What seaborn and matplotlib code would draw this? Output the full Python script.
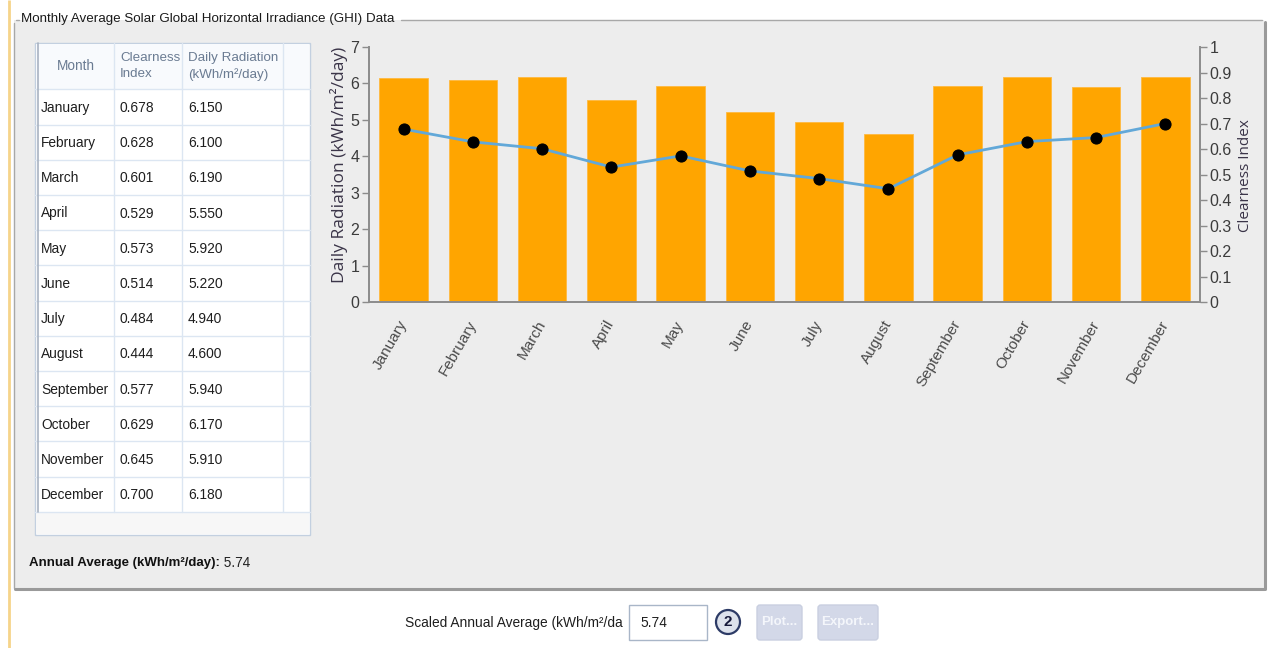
import numpy as np
import pandas as pd
import matplotlib
matplotlib.use("Agg")
import matplotlib.pyplot as plt
from matplotlib import font_manager
from matplotlib.patches import Rectangle, FancyBboxPatch, Circle
from matplotlib.ticker import FuncFormatter
import seaborn as sns

# ---- data ---------------------------------------------------------------
months = ["January", "February", "March", "April", "May", "June", "July",
          "August", "September", "October", "November", "December"]
clearness_index = [0.678, 0.628, 0.601, 0.529, 0.573, 0.514, 0.484,
                   0.444, 0.577, 0.629, 0.645, 0.700]
daily_radiation = [6.150, 6.100, 6.190, 5.550, 5.920, 5.220, 4.940,
                   4.600, 5.940, 6.170, 5.910, 6.180]
annual_average = 5.74
scaled_annual_average = 5.74
radiation_ticks = [0, 1, 2, 3, 4, 5, 6, 7]
clearness_ticks = [0, 0.1, 0.2, 0.3, 0.4, 0.5, 0.6, 0.7, 0.8, 0.9, 1.0]
table_headers = ["Month", "Clearness\nIndex", "Daily Radiation\n(kWh/m²/day)"]
panel_title = "Monthly Average Solar Global Horizontal Irradiance (GHI) Data"

# ---- style --------------------------------------------------------------
sns.set_theme(style="white")
installed = {f.name for f in font_manager.fontManager.ttflist}
narrow = "Liberation Sans Narrow" if "Liberation Sans Narrow" in installed else "Liberation Sans"
plt.rcParams["font.family"] = [narrow, "DejaVu Sans"]
plt.rcParams["axes.unicode_minus"] = False

W, H = 1269, 648
fig = plt.figure(figsize=(W / 100, H / 100), dpi=100, facecolor="white")

# full-figure canvas in pixel coordinates for the window chrome
bg = fig.add_axes([0, 0, 1, 1], zorder=0)
bg.set_xlim(0, W)
bg.set_ylim(H, 0)
bg.axis("off")

PANEL = "#EDEDED"
TXT = "#1E1E1E"
# accent strip on the left edge
bg.plot([9, 9], [0, H], color="#F6D48A", lw=2, solid_capstyle="butt")

# group box
gx0, gy0, gx1, gy1 = 14, 20, 1264, 588
bg.add_patch(Rectangle((gx0, gy0), gx1 - gx0, gy1 - gy0, facecolor=PANEL, edgecolor="none"))
edge = "#A8A8A8"
bg.plot([gx0, gx0], [gy0 + 3, gy1], color=edge, lw=1)
bg.plot([gx0 + 1, gx1], [gy1 + 1, gy1 + 1], color="#9A9A9A", lw=2.2)
bg.plot([gx1 + 1, gx1 + 1], [gy0 + 2, gy1 + 1], color="#9A9A9A", lw=2.2)
bg.plot([gx0 + 2, 19], [gy0, gy0], color=edge, lw=1)
bg.plot([401, gx1 - 2], [gy0, gy0], color=edge, lw=1)
bg.text(21, gy0 - 1, panel_title, fontsize=9.6, color="#1A1A1A", va="center", ha="left")

# ---- data grid ----------------------------------------------------------
tx0, tx1, ty0, ty1 = 35, 310, 43, 535
head_bottom = 89.3
row_h = 35.2
col_x = [35, 114, 181.7, 283.3]
grid_line = "#DCE6F2"

bg.add_patch(Rectangle((tx0, ty0), tx1 - tx0, ty1 - ty0, facecolor="white",
                       edgecolor="#C3D0E0", lw=1))
rows_end = head_bottom + row_h * len(months)
bg.add_patch(Rectangle((tx0 + 1, rows_end), tx1 - tx0 - 2, ty1 - rows_end - 1,
                       facecolor="#F7F7F7", edgecolor="none"))
# header shading
bg.add_patch(Rectangle((tx0 + 1, ty0 + 1), tx1 - tx0 - 2, head_bottom - ty0 - 1,
                       facecolor="#F8FAFD", edgecolor="none"))
for cx in col_x[1:]:
    bg.plot([cx, cx], [ty0, rows_end], color=grid_line, lw=1)
for k in range(len(months) + 1):
    yy = head_bottom + row_h * k
    bg.plot([tx0, tx1], [yy, yy], color=grid_line, lw=1)
bg.plot([tx0 + 3, tx0 + 3], [ty0, rows_end], color="#A9B3C1", lw=1.2)

head_color = "#6A7B92"
hy = (ty0 + head_bottom) / 2
bg.text(76, hy, table_headers[0], fontsize=9.8, color=head_color, ha="center", va="center")
bg.text(120, hy, table_headers[1], fontsize=9.6, color=head_color,
        ha="left", va="center", linespacing=1.45)
bg.text(188, hy, table_headers[2], fontsize=9.6, color=head_color,
        ha="left", va="center", linespacing=1.45)

for k, (m, ci, dr) in enumerate(zip(months, clearness_index, daily_radiation)):
    yc = head_bottom + row_h * (k + 0.5) + 1
    bg.text(41, yc, m, fontsize=9.9, color=TXT, va="center", ha="left")
    bg.text(120, yc, f"{ci:.3f}", fontsize=9.9, color=TXT, va="center", ha="left")
    bg.text(188, yc, f"{dr:.3f}", fontsize=9.9, color=TXT, va="center", ha="left")

# annual average line
lab = bg.text(29, 563, "Annual Average (kWh/m²/day):", fontsize=9.5, fontweight="bold",
              color="#111111", va="center", ha="left")
bg.annotate(f" {annual_average:.2f}", xy=(1, 0.5), xycoords=lab, fontsize=9.8,
            color="#222222", va="center", ha="left")

# ---- bottom controls ----------------------------------------------------
bg.text(623, 623, "Scaled Annual Average (kWh/m²/da", fontsize=9.9, color=TXT,
        ha="right", va="center")
bg.add_patch(Rectangle((629, 605), 78, 35, facecolor="white", edgecolor="#A9B6C8", lw=1))
bg.text(640, 623, f"{scaled_annual_average:.2f}", fontsize=9.9, color=TXT,
        ha="left", va="center")
bg.add_patch(Circle((728, 622), 12, facecolor="#DDE2EC", edgecolor="#2D3B66", lw=1.6))
bg.text(728, 622, "2", fontsize=11, fontweight="bold", color="#15183A",
        ha="center", va="center")
for x0, w, txt in [(757, 45, "Plot..."), (818, 60, "Export...")]:
    bg.add_patch(FancyBboxPatch((x0, 605), w, 35, boxstyle="round,pad=0,rounding_size=3",
                                facecolor="#D3D8E8", edgecolor="#C9CFE0", lw=1))
    bg.text(x0 + w / 2, 622, txt, fontsize=9.5, fontweight="bold", color="#F4F6FB",
            ha="center", va="center")

# ---- chart --------------------------------------------------------------
ax_l, ax_r, ax_t, ax_b = 369, 1200, 47, 302
ax = fig.add_axes([ax_l / W, (H - ax_b) / H, (ax_r - ax_l) / W, (ax_b - ax_t) / H], zorder=2)
ax.patch.set_alpha(0)

df = pd.DataFrame({"Month": months,
                   "Daily Radiation": daily_radiation,
                   "Clearness Index": clearness_index})

sns.barplot(data=df, x="Month", y="Daily Radiation", color="#FFA500", saturation=1,
            width=0.7, edgecolor="#FFB940", linewidth=0.6, ax=ax)

spine_c = "#8C8C8C"
tick_lab_c = "#3C3C3C"
ax.set_xlim(-0.5, len(months) - 0.5)
ax.set_ylim(0, 7)
ax.set_yticks(radiation_ticks)
ax.set_xticks(np.arange(len(months) + 1) - 0.5)
ax.set_xticklabels([])
ax.set_xticks(np.arange(len(months)), labels=months, minor=True)
ax.tick_params(axis="x", which="major", direction="out", length=6, width=1, color=spine_c)
ax.tick_params(axis="x", which="minor", length=0, pad=14, labelsize=11,
               labelcolor="#4A4A4A")
for lbl in ax.get_xticklabels(minor=True):
    lbl.set_rotation(60)
    lbl.set_ha("right")
    lbl.set_va("center")
    lbl.set_rotation_mode("anchor")
    lbl.set_fontfamily(["Liberation Sans", "DejaVu Sans"])
ax.tick_params(axis="y", direction="out", length=5, width=1, color=spine_c,
               labelsize=11.5, labelcolor=tick_lab_c, pad=2)
for s in ["top", "right"]:
    ax.spines[s].set_visible(False)
for s in ["left", "bottom"]:
    ax.spines[s].set_color(spine_c)
    ax.spines[s].set_linewidth(1.4)
ax.set_xlabel("")
ax.set_ylabel("Daily Radiation (kWh/m²/day)", fontsize=12.5, color="#3A3448",
              fontfamily=["Open Sans", "DejaVu Sans"])
ax.yaxis.set_label_coords(-0.025, 0.537)

ax2 = ax.twinx()
sns.lineplot(x=np.arange(len(months)), y=df["Clearness Index"], ax=ax2,
             color="#62A8D8", lw=2, marker="o", markersize=8,
             markerfacecolor="black", markeredgecolor="black", zorder=5)
ax2.set_xlim(-0.5, len(months) - 0.5)
ax2.set_ylim(0, 1)
ax2.set_yticks(clearness_ticks)
ax2.yaxis.set_major_formatter(FuncFormatter(lambda v, p: f"{v:g}"))
ax2.tick_params(axis="y", direction="out", length=5, width=1, color=spine_c,
                labelsize=11.5, labelcolor=tick_lab_c, pad=2)
for s in ["top", "left", "bottom"]:
    ax2.spines[s].set_visible(False)
ax2.spines["right"].set_color(spine_c)
ax2.spines["right"].set_linewidth(1.4)
ax2.set_xlabel("")
ax2.set_ylabel("Clearness Index", fontsize=11, color="#3A3448",
               fontfamily=["Open Sans", "DejaVu Sans"])
ax2.yaxis.set_label_coords(1.046, 0.494)

fig.savefig("out.png", dpi=100, facecolor="white")
